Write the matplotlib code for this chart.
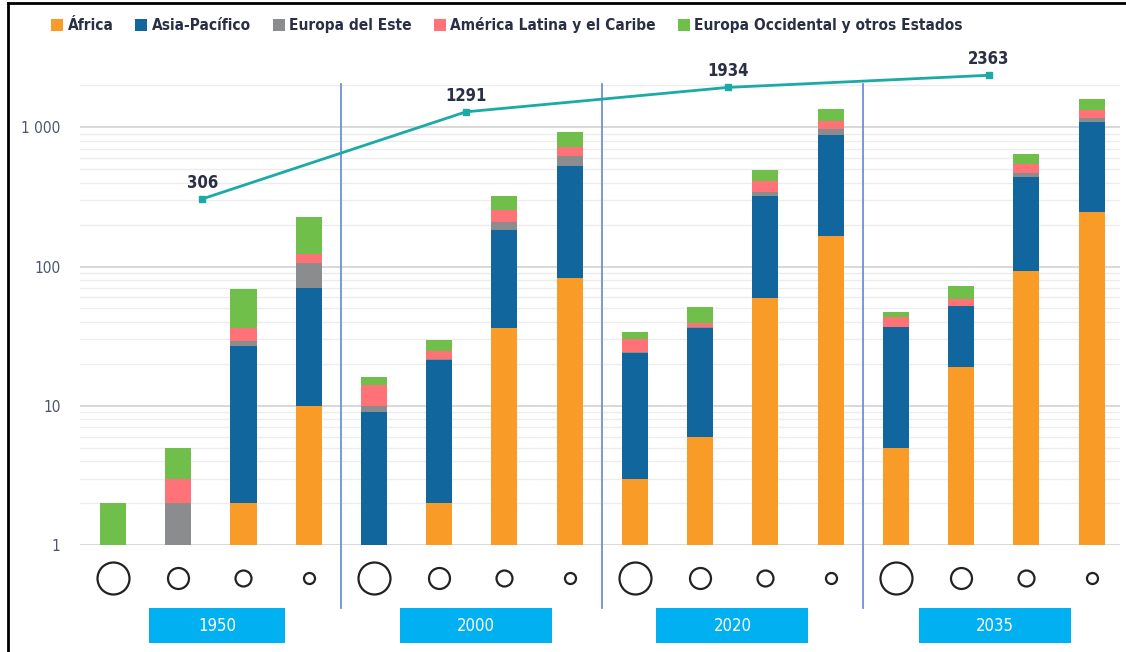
import matplotlib.pyplot as plt
import numpy as np
from matplotlib import font_manager
from matplotlib.lines import Line2D
from matplotlib.patches import Patch, Rectangle
from matplotlib.ticker import FixedLocator, FuncFormatter

# prefer a narrow face for the condensed look
faces = {(f.name, f.stretch) for f in font_manager.fontManager.ttflist}
names = {n for n, _ in faces}
scale = 1.0
if 'Liberation Sans Narrow' in names:
    plt.rcParams['font.family'] = ['Liberation Sans Narrow', 'DejaVu Sans']
elif ('DejaVu Sans', 'condensed') in faces or ('DejaVu Sans', 'semi-condensed') in faces:
    plt.rcParams['font.family'] = ['DejaVu Sans']
    plt.rcParams['font.stretch'] = 'condensed'
    scale = 0.92
else:
    plt.rcParams['font.family'] = ['Roboto', 'DejaVu Sans']
    scale = 0.82

regions = ['África', 'Asia-Pacífico', 'Europa del Este',
           'América Latina y el Caribe', 'Europa Occidental y otros Estados']
colors = ['#F89C27', '#11679D', '#8B8C8E', '#FF7278', '#6FBF4A']
years = ['1950', '2000', '2020', '2035']
totals = [306, 1291, 1934, 2363]

# cities per size class (largest class first), one list per region
africa = [0, 0, 2, 10,      0, 2, 36, 83,       3, 6, 59, 167,      5, 19, 93, 247]
asia = [0, 0, 25, 60,       9, 19.5, 146, 445,  21, 30, 263, 706,   31.5, 33, 347, 846]
europa_este = [0, 2, 2, 36, 1, 0.3, 27, 92,     0.3, 0.5, 22, 91,   0.5, 0.5, 26, 76]
america_latina = [0, 1, 7, 17, 4, 3, 45, 103,   6, 3, 66, 148,      6.5, 5.5, 80, 158]
europa_occ = [2, 2, 33, 104, 2, 5, 68, 195,     3.5, 11.5, 80, 252, 4, 14.5, 92, 265]
series = [africa, asia, europa_este, america_latina, europa_occ]

fig = plt.figure(figsize=(11.26, 6.52), dpi=100)
ax = fig.add_axes([0.071, 0.164, 0.924, 0.722])

x = np.arange(16)
bottom = np.zeros(16)
for vals, col in zip(series, colors):
    vals = np.array(vals, dtype=float)
    ax.bar(x, vals, bottom=bottom, width=0.4, color=col, zorder=3)
    bottom += vals

ax.set_yscale('log')
ax.set_ylim(1, 2400)
ax.set_xlim(-0.506, 15.44)

ax.yaxis.set_major_locator(FixedLocator([1, 10, 100, 1000]))
ax.yaxis.set_minor_locator(FixedLocator([m * 10 ** e for e in range(4) for m in range(2, 10)]))
ax.yaxis.set_major_formatter(FuncFormatter(lambda v, p: f'{int(v):,}'.replace(',', ' ')))
ax.yaxis.set_minor_formatter(FuncFormatter(lambda v, p: ''))
ax.grid(axis='y', which='major', color='#D6D6D6', lw=1.3, zorder=0)
ax.grid(axis='y', which='minor', color='#ECECEC', lw=1.0, zorder=0)
ax.tick_params(axis='y', which='both', length=0, pad=14, labelsize=12 * scale,
               labelcolor='#4D5670')
ax.tick_params(axis='x', length=0, labelbottom=False)
for s in ax.spines.values():
    s.set_visible(False)

# total line across the four years
line_x = [1.37, 5.41, 9.43, 13.42]
ax.plot(line_x, totals, color='#1BAAA5', lw=2, marker='s', ms=5, zorder=5, clip_on=False)
for lx, t in zip(line_x, totals):
    ax.annotate(str(t), (lx, t), xytext=(0, 5), textcoords='offset points',
                ha='center', va='bottom', fontsize=13 * scale, fontweight='bold',
                color='#2A2F45', zorder=6, annotation_clip=False)

# size-class circles under each bar
xt = ax.get_xaxis_transform()
sizes = [530, 228, 132, 63]
for i in range(16):
    ax.scatter(x[i], -0.070, s=sizes[i % 4], facecolor='white', edgecolor='#222222',
               lw=1.6, transform=xt, clip_on=False, zorder=4)

# year boxes
boxes = [(0.55, 2.64), (4.40, 6.73), (8.33, 10.66), (12.35, 14.68)]
for (x0, x1), yr in zip(boxes, years):
    ax.add_patch(Rectangle((x0, -0.208), x1 - x0, 0.074, transform=xt,
                           facecolor='#00B0F0', edgecolor='none', clip_on=False))
    ax.text((x0 + x1) / 2, -0.171, yr, transform=xt, ha='center', va='center',
            color='white', fontsize=13 * scale)

# separators between years
for sx in [3.5, 7.5, 11.5]:
    ax.plot([sx, sx], [0.98, -0.134], transform=xt, color='#6F8FD6', lw=1.3,
            clip_on=False, zorder=2)

handles = [Patch(facecolor=c, edgecolor='none') for c in colors]
leg = fig.legend(handles, regions, loc='upper left', bbox_to_anchor=(0.033, 0.995),
                 ncol=5, frameon=False, handlelength=0.8, handleheight=0.85,
                 handletextpad=0.3, columnspacing=1.4, fontsize=12 * scale)
for t in leg.get_texts():
    t.set_color('#2A2F45')
    t.set_fontweight('bold')

# outer frame
fig.add_artist(Line2D([8 / 1126, 8 / 1126], [0, 1 - 3 / 652], color='black', lw=2))
fig.add_artist(Line2D([8 / 1126, 1], [1 - 3 / 652, 1 - 3 / 652], color='black', lw=2))

plt.savefig('out.png', dpi=100)
